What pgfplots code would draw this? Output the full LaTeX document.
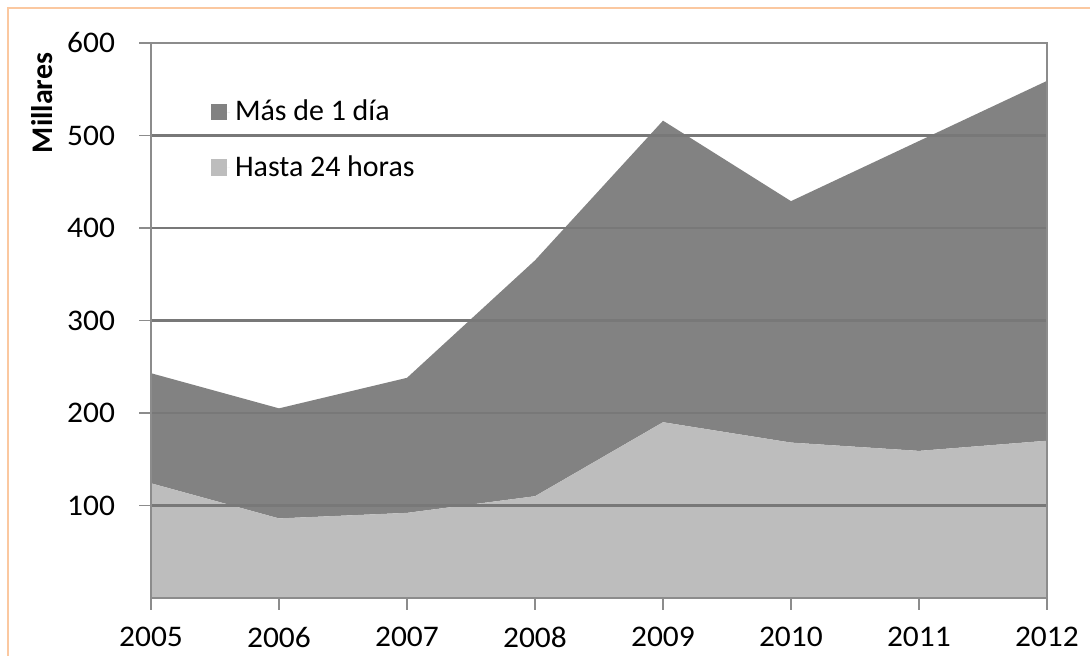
\documentclass[border=0pt]{standalone}
\usepackage{fontspec}
\setmainfont{Carlito}
\newfontfamily\tickfont[FakeStretch=1.05]{Carlito}
\usepackage{pgfplots}
\pgfplotsset{compat=1.18}

\definecolor{darkarea}{RGB}{130,130,130}
\definecolor{lightarea}{RGB}{189,189,189}
\definecolor{gridc}{RGB}{120,120,120}
\definecolor{axisc}{RGB}{140,140,140}
\definecolor{frame}{RGB}{251,200,160}

\begin{document}
\begin{tikzpicture}[x=0.014679cm,y=0.014679cm]
\useasboundingbox (0,0) rectangle (1090,656);
% orange frame of the page
\draw[frame, line width=0.9pt] (8,0) -- (8,648) -- (1095,648);

\begin{axis}[
  at={(2.2165cm,0.8514cm)}, anchor=south west,
  scale only axis, width=13.152cm, height=8.147cm,
  xmin=2005, xmax=2012, ymin=0, ymax=600,
  xtick={2005,...,2012}, ytick={100,200,...,600},
  /pgf/number format/assume math mode=true,
  x tick label style={/pgf/number format/1000 sep={}},
  tick label style={font=\tickfont\fontsize{12.5}{15}\selectfont},
  yticklabel style={xshift=-6.5pt},
  xticklabel style={yshift=-3.8pt},
  tick pos=left,
  tick align=outside, major tick length=5pt,
  tick style={axisc, line width=0.8pt},
  axis line style={axisc, line width=0.9pt},
  ymajorgrids, grid style={gridc, line width=0.9pt},
  axis on top,
  stack plots=y,
  legend style={draw=none, fill=none, at={(0.066,0.907)}, anchor=north west,
    font=\fontsize{12.5}{14}\selectfont, row sep=9pt, inner sep=0pt},
  legend cell align=left,
  reverse legend,
  legend image code/.code={\fill[#1] (0pt,-3.5pt) rectangle (7pt,3.5pt); \path (7pt,0) -- (8.2pt,0);},
]
\addplot[fill=lightarea, draw=none] coordinates {
  (2005,124) (2006,86) (2007,92) (2008,110) (2009,190) (2010,168) (2011,159) (2012,170)
} \closedcycle;
\addlegendentry{Hasta 24 horas}
\addplot[fill=darkarea, draw=none] coordinates {
  (2005,119) (2006,119) (2007,146) (2008,255) (2009,326) (2010,261) (2011,335) (2012,389)
} \closedcycle;
\addlegendentry{Más de 1 día}
\end{axis}

\node[rotate=90, font=\fontsize{12.5}{14}\selectfont\bfseries] at (42,553) {Millares};
\end{tikzpicture}
\end{document}
